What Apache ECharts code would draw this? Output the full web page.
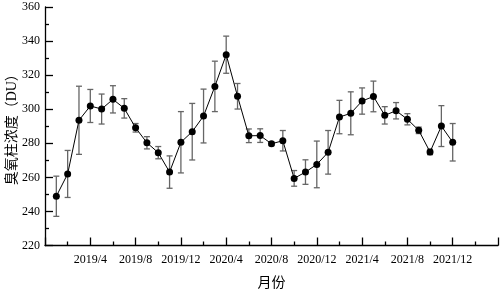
<!DOCTYPE html>
<html>
<head>
<meta charset="utf-8">
<script src="https://cdn.jsdelivr.net/npm/echarts@6/dist/echarts.min.js"></script>
<style>html,body{margin:0;padding:0;background:#fff}#c{width:501px;height:291px}</style>
</head>
<body>
<div id="c"></div>
<script>
const months = ['2019/1','2019/2','2019/3','2019/4','2019/5','2019/6','2019/7','2019/8','2019/9','2019/10','2019/11','2019/12',
  '2020/1','2020/2','2020/3','2020/4','2020/5','2020/6','2020/7','2020/8','2020/9','2020/10','2020/11','2020/12',
  '2021/1','2021/2','2021/3','2021/4','2021/5','2021/6','2021/7','2021/8','2021/9','2021/10','2021/11','2021/12'];
const ozone = [248.9,262.0,293.5,301.9,300.1,305.8,300.5,289.1,280.3,274.5,263.1,280.6,
  286.8,296.0,313.4,332.0,307.6,284.4,284.5,279.7,281.5,259.4,263.1,267.6,
  274.7,295.4,297.6,304.8,307.5,296.4,299.1,294.1,287.6,274.9,290.1,280.6];
const errs = [11.8,13.8,20.0,9.7,8.8,8.0,5.7,2.5,3.6,3.6,9.5,18.0,
  16.6,15.8,14.8,10.9,7.5,4.0,4.0,1.0,6.0,4.6,7.2,13.7,
  12.8,9.8,12.6,7.7,9.0,5.1,4.8,3.3,1.9,1.6,12.0,11.0];
const yTicks = [220,240,260,280,300,320,340,360];
const xStart = '2018/12', xEnd = '2022/4';

function mIndex(s){const p=s.split('/');return (+p[0]-2018)*12 + (+p[1]) - 12;}
function mLabel(i){const t=i+11;const y=2018+Math.floor(t/12);const m=t%12+1;return y+'/'+m;}

const pts = months.map((m,i)=>[mIndex(m), ozone[i]]);
const errData = months.map((m,i)=>[mIndex(m), ozone[i]-errs[i], ozone[i]+errs[i]]);
const x0 = mIndex(xStart), x1 = mIndex(xEnd);

const chart = echarts.init(document.getElementById('c'), null, {renderer:'canvas'});
const serif = '"Liberation Serif","Times New Roman","Noto Sans CJK SC",serif';
chart.setOption({
  animation:false,
  grid:{left:45,right:3,top:7,bottom:45.5,containLabel:false,outerBoundsMode:'none'},
  xAxis:{type:'value',min:x0,max:x1,interval:4,
    name:'月份',nameLocation:'middle',nameGap:31,nameMoveOverlap:false,
    nameTextStyle:{fontFamily:serif,fontSize:14,color:'#000'},
    axisLine:{lineStyle:{color:'#000',width:1.3}},
    axisTick:{inside:true,length:8,lineStyle:{color:'#000',width:1.3}},
    minorTick:{show:true,splitNumber:2,length:4,lineStyle:{color:'#000',width:1.3}},
    splitLine:{show:false},
    axisLabel:{margin:8,fontFamily:serif,fontSize:12,color:'#000',
      formatter:v=>(v===x0||v===x1)?'':mLabel(v)}},
  yAxis:{type:'value',min:yTicks[0],max:yTicks[yTicks.length-1],interval:yTicks[1]-yTicks[0],
    name:'臭氧柱浓度（DU）',nameLocation:'middle',nameGap:26,nameMoveOverlap:false,
    nameTextStyle:{fontFamily:serif,fontSize:14,color:'#000'},
    axisLine:{show:true,lineStyle:{color:'#000',width:1.3}},
    axisTick:{show:true,inside:true,length:8,lineStyle:{color:'#000',width:1.3}},
    minorTick:{show:true,splitNumber:2,length:4,lineStyle:{color:'#000',width:1.3}},
    splitLine:{show:false},
    axisLabel:{margin:5,fontFamily:serif,fontSize:12,color:'#000'}},
  series:[
    {type:'custom',data:errData,z:1,
      renderItem:function(params,api){
        const x=api.value(0);
        const lo=api.coord([x,api.value(1)]);
        const hi=api.coord([x,api.value(2)]);
        const w=3;
        const st={stroke:'#666',lineWidth:1.3};
        return {type:'group',children:[
          {type:'line',shape:{x1:lo[0],y1:lo[1],x2:hi[0],y2:hi[1]},style:st},
          {type:'line',shape:{x1:lo[0]-w,y1:lo[1],x2:lo[0]+w,y2:lo[1]},style:st},
          {type:'line',shape:{x1:hi[0]-w,y1:hi[1],x2:hi[0]+w,y2:hi[1]},style:st}
        ]};
      }},
    {type:'line',data:pts,z:2,symbol:'circle',symbolSize:7,
      lineStyle:{color:'#000',width:1},itemStyle:{color:'#000'}}
  ]
});
</script>
</body>
</html>
